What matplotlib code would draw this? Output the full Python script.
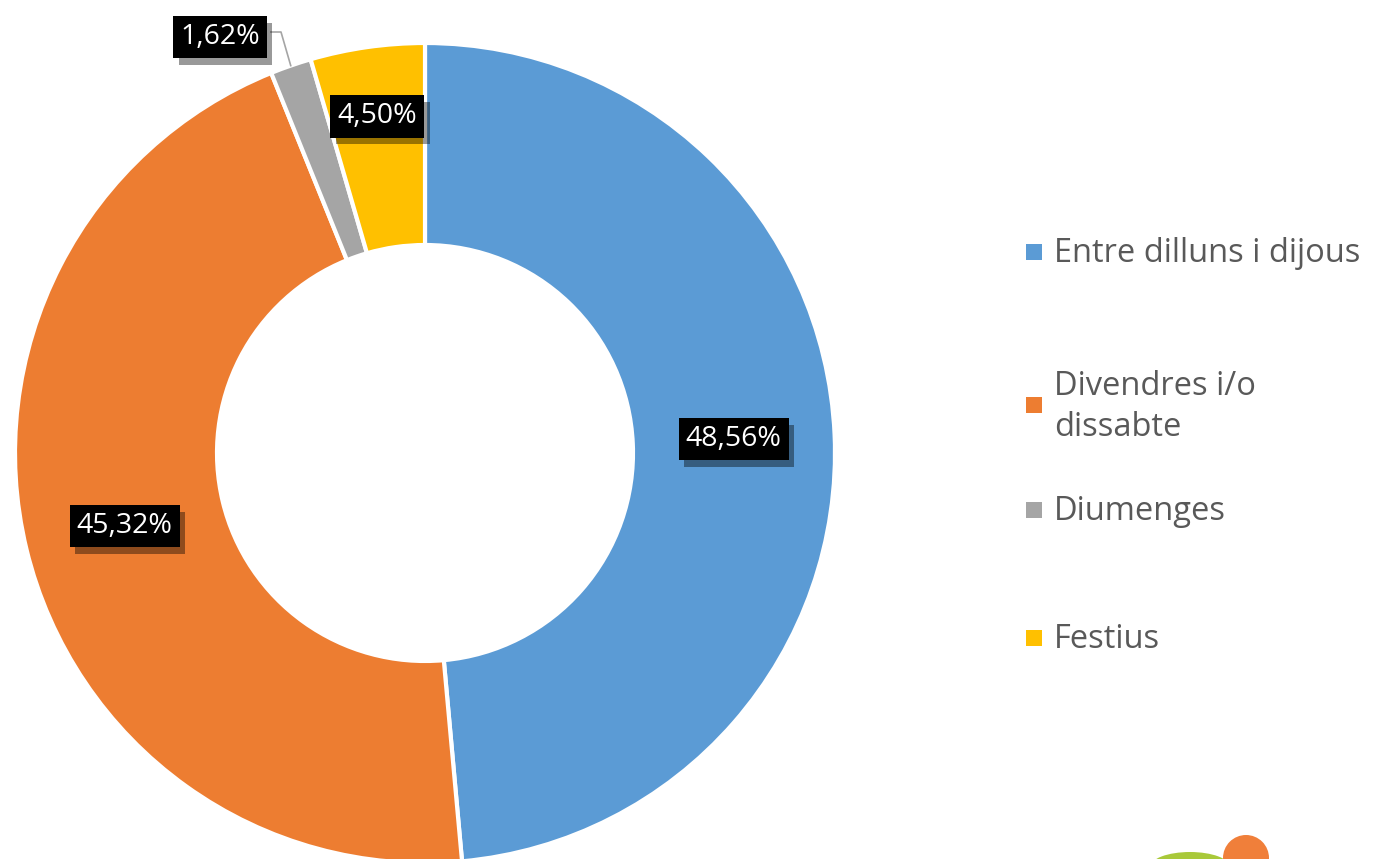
import numpy as np
import matplotlib
matplotlib.use("Agg")
import matplotlib.pyplot as plt
from matplotlib import patheffects as pe
from matplotlib.patches import Rectangle, Ellipse, Circle

categories = ["Entre dilluns i dijous", "Divendres i/o\ndissabte", "Diumenges", "Festius"]
values = [48.56, 45.32, 1.62, 4.50]
labels = ["48,56%", "45,32%", "1,62%", "4,50%"]
colors = ["#5B9BD5", "#ED7D31", "#A5A5A5", "#FFC000"]

W, H = 1374, 859
fig = plt.figure(figsize=(W / 100, H / 100), dpi=100)
ax = fig.add_axes([0, 0, 1, 1])
ax.set_xlim(0, W)
ax.set_ylim(0, H)
ax.set_aspect("equal")
ax.axis("off")

cx, cy = 425, H - 453
R, r = 410, 208
wedges, _ = ax.pie(values, colors=colors, startangle=90, counterclock=False,
                   radius=R, center=(cx, cy),
                   wedgeprops=dict(width=R - r, edgecolor="white", linewidth=3))
ax.set_xlim(0, W)
ax.set_ylim(0, H)

fs = 20.5
font = "Open Sans"
cum = np.cumsum([0] + values[:-1])
dist = [309, 309, None, 340]
for i, (v, lab) in enumerate(zip(values, labels)):
    mid = np.deg2rad(90 - (cum[i] + v / 2) / 100 * 360)
    if dist[i] is not None:
        x = cx + dist[i] * np.cos(mid)
        y = cy + dist[i] * np.sin(mid)
    else:
        px = cx + R * np.cos(mid)
        py = cy + R * np.sin(mid)
        x, y = 220, H - 37
        ax.plot([px, 281, 271], [py, H - 32, H - 32], color="#A5A5A5", lw=1.2, zorder=4)
    t = ax.text(x, y, lab, ha="center", va="center", color="white", fontsize=fs,
                family=font, zorder=6,
                bbox=dict(boxstyle="square,pad=0.25", facecolor="black", edgecolor="none"))
    t.get_bbox_patch().set_path_effects([
        pe.SimplePatchShadow(offset=(4, -5), shadow_rgbFace="#000000", alpha=0.4),
        pe.Normal()])

# legend (manual layout)
leg_y = [252, 405, 510, 638]
for cat, col, ly in zip(categories, colors, leg_y):
    ax.add_patch(Rectangle((1026, H - ly - 8), 16, 16, facecolor=col, edgecolor="none"))
    ax.text(1054, H - ly - 2, cat, ha="left", va="center", fontsize=23.5, family=font,
            color="#595959", linespacing=1.35)

# partial logo at bottom right
ax.add_patch(Ellipse((1190, -8), 80, 30, facecolor="#A9C93A", edgecolor="none"))
ax.add_patch(Circle((1246, 1), 23, facecolor="#F07F3A", edgecolor="none"))

fig.savefig("out.png", dpi=100, facecolor="white")
